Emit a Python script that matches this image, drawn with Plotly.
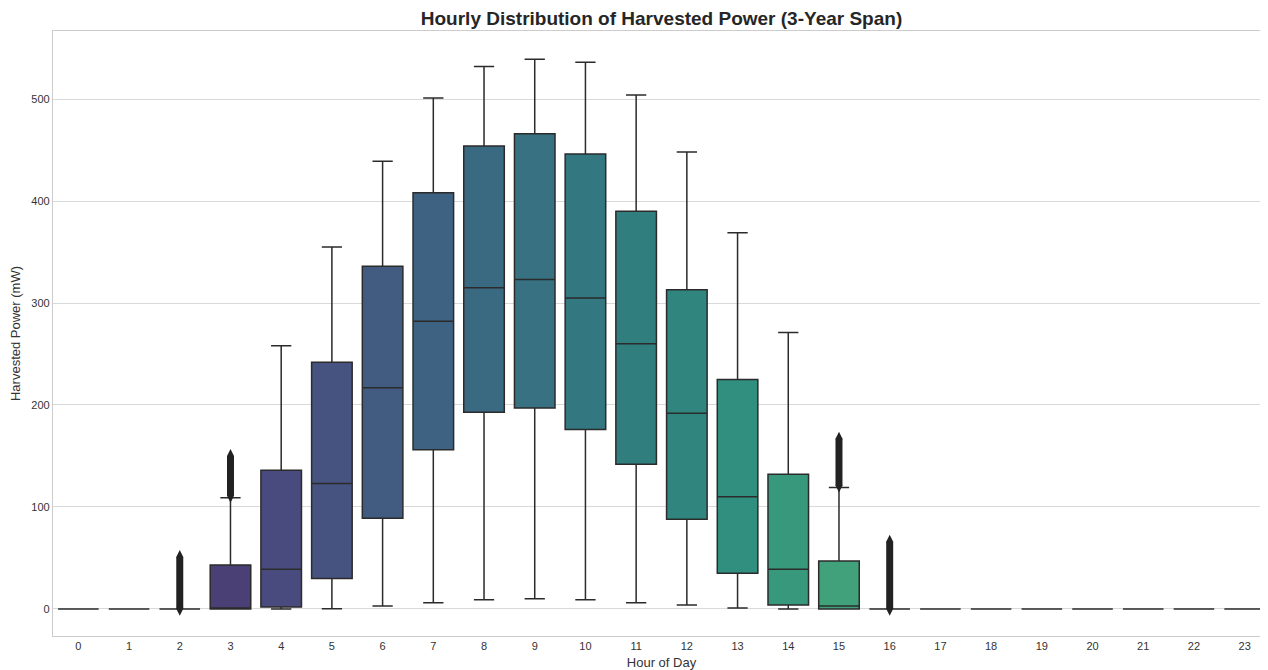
import colorsys
import plotly.graph_objects as go
from plotly.colors import sample_colorscale, unlabel_rgb

hours = list(range(24))
q1 = [0, 0, 0, 0, 2, 30, 89, 156, 193, 197, 176, 142, 88, 35, 4, 0, 0, 0, 0, 0, 0, 0, 0, 0]
median = [0, 0, 0, 0, 39, 123, 217, 282, 315, 323, 305, 260, 192, 110, 39, 3, 0, 0, 0, 0, 0, 0, 0, 0]
q3 = [0, 0, 0, 43, 136, 242, 336, 408, 454, 466, 446, 390, 313, 225, 132, 47, 0, 0, 0, 0, 0, 0, 0, 0]
lower_whisker = [0, 0, 0, 0, 0, 0.3, 3, 6, 9, 10, 9, 6, 4, 1, 0, 0, 0, 0, 0, 0, 0, 0, 0, 0]
upper_whisker = [0, 0, 0, 109, 258, 355, 439, 501, 532, 539, 536, 504, 448, 369, 271, 119, 0, 0, 0, 0, 0, 0, 0, 0]
outlier_hours = [2, 3, 15, 16]
outlier_min = [0.3, 111, 121, 0.3]
outlier_max = [51, 150, 167, 66]


def seaborn_color(i, n=24, sat=0.75):
    t = (i + 1) / (n + 1)
    r, g, b = unlabel_rgb(sample_colorscale("Viridis", [t])[0])
    h, l, s = colorsys.rgb_to_hls(r / 255, g / 255, b / 255)
    r, g, b = colorsys.hls_to_rgb(h, l, s * sat)
    return f"rgb({r*255:.0f},{g*255:.0f},{b*255:.0f})"


edge = "#2b2b2b"
fig = go.Figure()
for i, h in enumerate(hours):
    fig.add_trace(go.Box(
        x=[h], q1=[q1[i]], median=[median[i]], q3=[q3[i]],
        lowerfence=[lower_whisker[i]], upperfence=[upper_whisker[i]],
        width=0.8, whiskerwidth=0.5, fillcolor=seaborn_color(i),
        line=dict(color=edge, width=1.5), showlegend=False, hoverinfo="skip",
    ))

for h, lo, hi in zip(outlier_hours, outlier_min, outlier_max):
    fig.add_trace(go.Scatter(
        x=[h, h], y=[lo, hi], mode="lines+markers",
        line=dict(color="#222222", width=7),
        marker=dict(symbol="diamond-tall", size=10, color="#222222"),
        showlegend=False, hoverinfo="skip",
    ))

# page body has an 8px margin; the figure is sized so the plot area matches the reference
fig.update_layout(
    width=1264, height=662,
    margin=dict(l=45, r=2, t=23, b=34, autoexpand=False),
    plot_bgcolor="white", paper_bgcolor="white",
    font=dict(family="Liberation Sans, Arial, sans-serif", color="#333333", size=11),
    title=dict(text="<b>Hourly Distribution of Harvested Power (3-Year Span)</b>",
               x=0.5, xref="paper", xanchor="center", y=1 - 10 / 662, yref="container", yanchor="middle",
               font=dict(size=19, color="#262626")),
    showlegend=False,
)
fig.update_xaxes(
    range=[-0.5, 23.5], tickmode="array", tickvals=hours, ticktext=[str(h) for h in hours],
    showgrid=False, zeroline=False, showline=True, linecolor="#cccccc", linewidth=1.2, mirror=True,
    ticks="", automargin=False,
    title=dict(text="Hour of Day", font=dict(size=13, color="#333333")),
)
fig.update_yaxes(
    range=[-26.5, 566.7], tickvals=[0, 100, 200, 300, 400, 500],
    showgrid=True, gridcolor="#d9d9d9", gridwidth=1, zeroline=False,
    showline=True, linecolor="#cccccc", linewidth=1.2, mirror=True, ticks="", automargin=False,
    title=dict(text="Harvested Power (mW)", font=dict(size=13, color="#333333")),
)
fig.write_html("out.html")
